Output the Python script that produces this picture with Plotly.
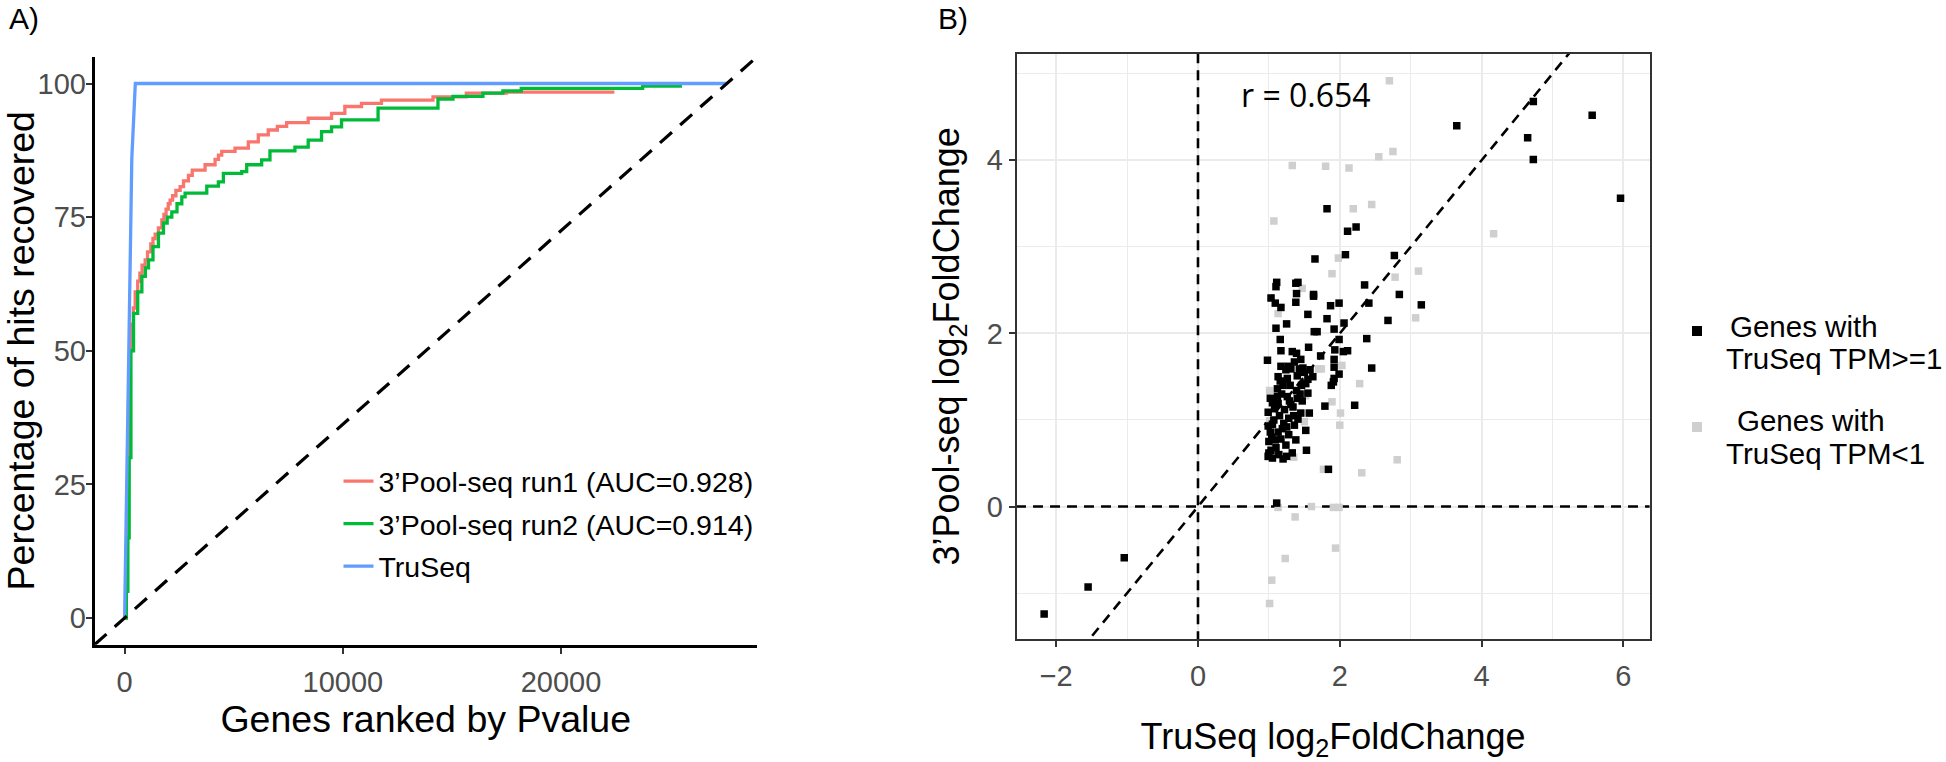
import plotly.graph_objects as go

W, H = 1946, 762


def fx(px):
    return px / W


def fy(py):
    return 1 - py / H


# ---------------- Panel A data ----------------
N_GENES = 27600
run1_x = [0, 60, 120, 180, 240, 300, 400, 485, 600, 700, 800, 942, 1050, 1200, 1300, 1400,
          1550, 1706, 1800, 1900, 2000, 2086, 2200, 2350, 2544, 2700, 2925, 3100, 3687, 4145,
          4300, 4450, 5060, 5670, 6126, 6584, 7000, 7425, 8414, 9484, 10092, 10856, 11771,
          14132, 15660, 17490, 22445]
run1_y = [0, 10, 25, 40, 50, 55, 58, 61, 63, 64.5, 66, 67, 68.5, 70, 71, 71.8,
          73, 74.5, 75.5, 76.5, 77.5, 78.2, 79, 80, 80.7, 81.8, 82.8, 83.8, 84.8, 85.8,
          86.6, 87.3, 87.9, 89.1, 90.4, 91.3, 92, 92.7, 93.5, 94.4, 95.7, 96.3, 96.9,
          97.5, 98.2, 98.4, 98.4]
run2_x = [0, 80, 150, 210, 290, 410, 600, 791, 950, 1095, 1300, 1551, 1780, 1950, 2163,
          2400, 2621, 2772, 3765, 4296, 4525, 5366, 5595, 6281, 6661, 7805, 8414, 9025,
          9484, 9941, 11615, 14360, 15047, 16420, 17335, 18176, 23740, 25542]
run2_y = [0, 5, 15, 30, 50, 57, 61, 63.9, 65.5, 67, 69.5, 72, 73.9, 75, 76,
          77.5, 78.8, 79.5, 80.8, 81.6, 83.2, 83.5, 84.8, 85.7, 87.4, 88.1, 89.4, 91.0,
          91.9, 93.2, 95.4, 97.1, 97.6, 98.2, 98.6, 99.1, 99.5, 99.5]
truseq_x = [0, 330, 490, 27600]
truseq_y = [0, 86, 100, 100]
curve_names = ["3’Pool-seq run1 (AUC=0.928)", "3’Pool-seq run2 (AUC=0.914)", "TruSeq"]
curve_colors = ["#F8766D", "#00BA38", "#619CFF"]
a_xticks = [0, 10000, 20000]
a_yticks = [0, 25, 50, 75, 100]
a_xrange = [-1380, 28980]
a_yrange = [-5, 105]

# ---------------- Panel B data ----------------
hi_x = [-2.17, -1.55, -1.04, 3.65, 4.73, 4.65, 4.73, 5.56, 5.96, 1.82, 2.11, 2.23, 2.08, 1.65,
        2.77, 2.35, 2.84, 3.15, 2.41, 2.68, 2.06, 2.38, 2.45, 2.21, 1.79, 1.84, 1.11, 1.53,
        1.11, 1.10, 1.41, 1.03, 1.09, 1.17, 1.39, 1.38, 1.63, 1.87, 1.99, 1.55, 1.82, 1.10,
        1.25, 1.64, 1.68, 1.92, 1.16, 1.99, 1.17, 1.33, 1.39, 1.56, 1.73, 1.93, 2.11, 0.98,
        1.17, 1.31, 1.43, 1.58, 1.92, 1.13, 1.26, 1.40, 1.55, 1.92, 1.99, 1.20, 1.52, 1.02,
        1.12, 1.26, 1.39, 1.40, 1.55, 0.99, 1.13, 1.31, 1.45, 1.57, 1.07, 1.21, 1.36, 1.52,
        1.02, 1.13, 1.00, 1.09, 1.24, 1.38, 1.03, 1.05, 1.20,
        1.05, 1.18, 1.22, 1.28, 1.34, 1.46, 1.47, 1.05, 1.15, 1.10, 1.17, 1.28, 1.33, 1.00,
        1.12, 1.30, 1.45, 1.50, 1.24, 1.36, 1.62, 1.92, 1.88, 0.99, 1.08, 1.19, 1.29, 1.41,
        1.04, 1.14, 1.25, 1.35, 1.44, 1.16, 1.27, 1.48, 1.38, 1.91, 2.05, 0.99, 1.25, 1.63]
hi_y = [-1.24, -0.93, -0.59, 4.40, 4.68, 4.26, 4.01, 4.52, 3.56, 3.44, 3.18, 3.23, 2.91, 2.86,
        2.90, 2.56, 2.45, 2.33, 2.35, 2.15, 2.12, 1.94, 1.60, 1.17, 1.16, 0.43, 0.04, 0.65,
        2.59, 2.54, 2.59, 2.41, 2.35, 2.30, 2.46, 2.36, 2.45, 2.32, 2.35, 2.22, 2.17, 2.06,
        2.11, 2.02, 2.02, 2.05, 1.93, 1.93, 1.80, 1.79, 1.77, 1.84, 1.74, 1.81, 1.80, 1.69,
        1.62, 1.59, 1.59, 1.58, 1.61, 1.50, 1.48, 1.51, 1.47, 1.48, 1.53, 1.40, 1.42, 1.25,
        1.27, 1.27, 1.34, 1.25, 1.31, 1.09, 1.19, 1.18, 1.08, 1.08, 1.00, 0.96, 0.94, 0.88,
        0.86, 0.86, 0.75, 0.77, 0.71, 0.77, 0.65, 0.56, 0.55,
        1.20, 1.30, 1.12, 1.02, 1.15, 1.40, 1.22, 0.95, 1.05, 0.68, 0.78, 0.83, 0.62, 0.62,
        1.36, 1.40, 1.70, 1.55, 1.58, 1.67, 1.50, 1.70, 1.40, 0.93, 1.13, 0.90, 1.22, 1.01,
        0.80, 0.60, 0.92, 1.05, 1.30, 1.45, 1.62, 1.60, 2.58, 1.44, 1.79, 0.58, 0.58, 2.43]
lo_x = [2.70, 2.75, 2.55, 1.33, 1.80, 2.13, 1.07, 2.19, 2.45, 4.17, 1.98, 1.89, 2.78, 3.11,
        1.47, 3.07, 2.28, 1.89, 2.01, 2.00, 1.01, 2.81, 2.31, 1.77, 1.35, 0.99, 1.13, 1.60,
        1.91, 1.99, 1.37, 1.94, 1.23, 1.04, 1.01, 1.13, 1.70, 1.74, 2.03, 1.52, 1.01, 1.26,
        1.50, 1.00]
lo_y = [4.92, 4.10, 4.04, 3.94, 3.93, 3.91, 3.30, 3.44, 3.49, 3.15, 2.87, 2.69, 2.65, 2.72,
        2.52, 2.18, 1.42, 1.21, 1.08, 0.94, 1.34, 0.54, 0.39, 0.43, 0.57, 0.57, -0.01, 0.00,
        -0.01, -0.01, -0.12, -0.48, -0.60, -0.85, -1.12, 2.23, 1.59, 1.59, 1.63, 1.28, 0.99, 0.88,
        0.98, 0.60]
r_value = 0.654
b_ticks = [-2, 0, 2, 4, 6]
b_minor_x = [-1, 1, 3, 5]
b_yticks = [0, 2, 4]
b_minor_y = [-1, 1, 3, 5]
b_xrange = [-2.56, 6.37]
b_yrange = [-1.53, 5.23]
legend_b = [("Genes with", "TruSeq TPM&gt;=1", "#000000"), ("Genes with", "TruSeq TPM&lt;1", "#CFCFCF")]

FONT = "Liberation Sans, Arial, Helvetica, sans-serif"
TICKC = "#4D4D4D"

fig = go.Figure()

# Panel A curves
for cx, cy, nm, colr, shp, grp in [(run1_x, run1_y, curve_names[0], curve_colors[0], "hv", "g1"),
                                    (run2_x, run2_y, curve_names[1], curve_colors[1], "hv", "g2"),
                                    (truseq_x, truseq_y, curve_names[2], curve_colors[2], "linear", "g3")]:
    fig.add_trace(go.Scatter(x=cx, y=cy, mode="lines", line=dict(color=colr, width=3.3, shape=shp),
                             name=nm, legendgroup=grp, xaxis="x", yaxis="y"))
diag_x = a_xrange
diag_y = [100.0 * v / N_GENES for v in diag_x]
fig.add_trace(go.Scatter(x=diag_x, y=diag_y, mode="lines", line=dict(color="black", width=3.2, dash="16px,11px"),
                         showlegend=False, hoverinfo="skip", xaxis="x", yaxis="y"))

# Panel B reference lines
fig.add_trace(go.Scatter(x=[0, 0], y=[-10, 10], mode="lines", line=dict(color="black", width=2.6, dash="10px,7px"),
                         showlegend=False, hoverinfo="skip", xaxis="x2", yaxis="y2"))
fig.add_trace(go.Scatter(x=[-10, 10], y=[0, 0], mode="lines", line=dict(color="black", width=2.6, dash="10px,7px"),
                         showlegend=False, hoverinfo="skip", xaxis="x2", yaxis="y2"))
fig.add_trace(go.Scatter(x=[-10, 10], y=[-10, 10], mode="lines", line=dict(color="black", width=2.6, dash="10px,7px"),
                         showlegend=False, hoverinfo="skip", xaxis="x2", yaxis="y2"))
# Panel B points
fig.add_trace(go.Scatter(x=lo_x, y=lo_y, mode="markers", marker=dict(symbol="square", size=7.5, color="#CFCFCF"),
                         showlegend=False, xaxis="x2", yaxis="y2"))
fig.add_trace(go.Scatter(x=hi_x, y=hi_y, mode="markers", marker=dict(symbol="square", size=7.5, color="#000000"),
                         showlegend=False, xaxis="x2", yaxis="y2"))

axis_common = dict(showline=True, ticks="outside", ticklen=6, tickwidth=2, tickcolor="#333333",
                   tickfont=dict(size=29, color=TICKC, family=FONT), zeroline=False, automargin=False)

fig.update_layout(
    width=W, height=H, margin=dict(l=0, r=0, t=0, b=0),
    paper_bgcolor="white", plot_bgcolor="white", template="none",
    font=dict(family=FONT, color="black"),
    xaxis=dict(domain=[fx(94.5), fx(757)], range=a_xrange, tickvals=a_xticks, tickformat="d", showgrid=False,
               linecolor="black", linewidth=2.6, anchor="y", ticklabelstandoff=4,
               title=dict(text="Genes ranked by Pvalue", font=dict(size=37.5, color="black"), standoff=2),
               **axis_common),
    yaxis=dict(domain=[fy(644.7), fy(56.8)], range=a_yrange, tickvals=a_yticks, showgrid=False,
               linecolor="black", linewidth=2.6, anchor="x", ticklabelstandoff=-6,
               title=dict(text="Percentage of hits recovered", font=dict(size=37.5, color="black"), standoff=17),
               **axis_common),
    xaxis2=dict(domain=[fx(1016.5), fx(1649.6)], range=b_xrange, tickvals=b_ticks, showgrid=True,
                gridcolor="#EBEBEB", gridwidth=2, mirror=True, linecolor="#333333", linewidth=1.6, anchor="y2",
                ticklabelstandoff=4,
                minor=dict(tickvals=b_minor_x, showgrid=True, gridcolor="#EBEBEB", gridwidth=1, ticks=""),
                title=dict(text="TruSeq log<sub>2</sub>FoldChange", font=dict(size=36, color="black"), standoff=34),
                **axis_common),
    yaxis2=dict(domain=[fy(639), fy(53.8)], range=b_yrange, tickvals=b_yticks, showgrid=True,
                gridcolor="#EBEBEB", gridwidth=2, mirror=True, linecolor="#333333", linewidth=1.6, anchor="x2",
                minor=dict(tickvals=b_minor_y, showgrid=True, gridcolor="#EBEBEB", gridwidth=1, ticks=""),
                title=dict(text="3’Pool-seq log<sub>2</sub>FoldChange", font=dict(size=36, color="black"), standoff=16),
                **axis_common),
    legend=dict(x=fx(338.5), y=fy(456), xanchor="left", yanchor="top", bgcolor="rgba(0,0,0,0)",
                font=dict(size=28.5, color="black", family=FONT), itemwidth=30,
                traceorder="grouped", tracegroupgap=2.5),
    showlegend=True,
)

ann = [
    dict(text="A)", x=fx(7), y=1.0, xref="paper", yref="paper", xanchor="left", yanchor="top",
         showarrow=False, font=dict(size=30, color="black")),
    dict(text="B)", x=fx(936), y=1.0, xref="paper", yref="paper", xanchor="left", yanchor="top",
         showarrow=False, font=dict(size=30, color="black")),
    dict(text=f"r = {r_value}", x=1.52, y=4.76, xref="x2", yref="y2", xanchor="center", yanchor="middle",
         showarrow=False, font=dict(size=32, color="black", family="Open Sans")),
]
shapes = []
key_rows = [331, 427]
text_rows = [(326, 358.5, 1728), (420, 453, 1735)]
for (l1, l2, col), ky, (t1, t2, tx) in zip(legend_b, key_rows, text_rows):
    shapes.append(dict(type="rect", xref="paper", yref="paper", x0=fx(1692), x1=fx(1702),
                       y0=fy(ky + 5), y1=fy(ky - 5), fillcolor=col, line=dict(width=0)))
    ann.append(dict(text=l1, x=fx(tx), y=fy(t1), xref="paper", yref="paper", xanchor="left",
                    yanchor="middle", showarrow=False, font=dict(size=29.5, color="black")))
    ann.append(dict(text=l2, x=fx(1724), y=fy(t2), xref="paper", yref="paper", xanchor="left",
                    yanchor="middle", showarrow=False, font=dict(size=29.5, color="black")))
fig.update_layout(annotations=ann, shapes=shapes)

fig.write_html("out.html", config={"displayModeBar": False},
               post_script="document.body.style.margin='0px';")
